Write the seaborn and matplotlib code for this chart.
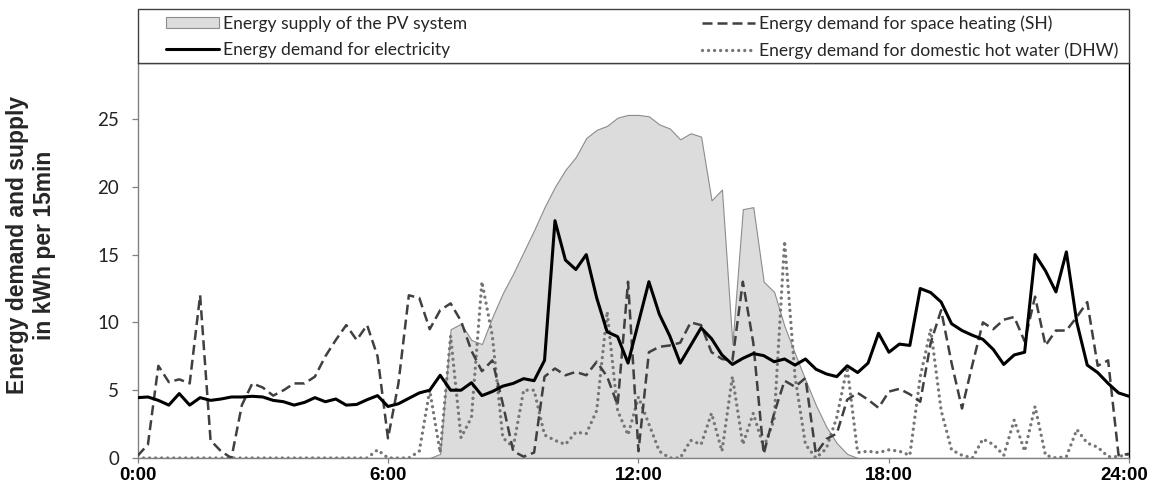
import matplotlib
matplotlib.use('Agg')
import matplotlib.pyplot as plt
import matplotlib.transforms as mtransforms
from matplotlib.patches import Patch, Rectangle
from matplotlib.lines import Line2D
import seaborn as sns
import pandas as pd
import numpy as np

sns.set_theme(style='white')
plt.rcParams['font.family'] = ['Lato', 'DejaVu Sans']

# quarter-hour slots of one day (hours)
slots = np.arange(96) / 4

pv_supply = [
    0, 0, 0, 0, 0, 0, 0, 0,
    0, 0, 0, 0, 0, 0, 0, 0,
    0, 0, 0, 0, 0, 0, 0, 0,
    0, 0, 0, 0, 0, 0.3, 9.5, 9.9,
    8.7, 8.4, 10.4, 12.15, 13.6, 15.2, 16.8, 18.5,
    20.0, 21.25, 22.2, 23.6, 24.2, 24.5, 25.1, 25.3,
    25.3, 25.2, 24.6, 24.3, 23.5, 23.95, 23.7, 19.0,
    19.8, 8.4, 18.35, 18.5, 13.0, 12.25, 9.7, 7.7,
    5.75, 3.9, 2.3, 1.1, 0.3, 0, 0, 0,
    0, 0, 0, 0, 0, 0, 0, 0,
    0, 0, 0, 0, 0, 0, 0, 0,
    0, 0, 0, 0, 0, 0, 0, 0,
]
elec_demand = [
    4.45, 4.5, 4.25, 3.9, 4.75, 3.9, 4.45, 4.25,
    4.35, 4.5, 4.5, 4.55, 4.5, 4.25, 4.15, 3.9,
    4.1, 4.45, 4.15, 4.35, 3.9, 3.95, 4.3, 4.6,
    3.8, 4.0, 4.4, 4.8, 5.0, 6.1, 5.0, 5.0,
    5.55, 4.6, 4.9, 5.3, 5.5, 5.85, 5.7, 7.2,
    17.5, 14.6, 13.9, 15.0, 11.8, 9.3, 8.95, 7.0,
    10.0, 13.0, 10.6, 9.0, 7.0, 8.3, 9.6, 8.8,
    7.6, 6.9, 7.35, 7.7, 7.55, 7.1, 7.3, 6.85,
    7.3, 6.55, 6.2, 6.0, 6.8, 6.3, 7.0, 9.2,
    7.8, 8.4, 8.3, 12.5, 12.2, 11.5, 9.9, 9.4,
    9.05, 8.75, 8.0, 6.9, 7.6, 7.8, 15.0, 13.8,
    12.25, 15.2, 10.0, 6.85, 6.3, 5.5, 4.8, 4.55,
]
sh_demand = [
    0.15, 1.0, 6.8, 5.6, 5.8, 5.5, 12.0, 1.3,
    0.5, 0.0, 3.9, 5.5, 5.2, 4.6, 5.0, 5.5,
    5.5, 6.0, 7.5, 8.7, 9.8, 8.7, 9.8, 7.5,
    1.45, 5.5, 12.0, 11.8, 9.5, 10.9, 11.4, 10.1,
    7.9, 6.4, 7.2, 4.0, 0.5, 0.1, 0.4, 6.0,
    6.6, 6.1, 6.35, 6.1, 7.1, 6.0, 3.9, 13.0,
    0.5, 7.8, 8.2, 8.3, 8.5, 10.0, 9.8, 7.8,
    7.3, 7.2, 13.0, 8.5, 0.3, 3.3, 5.7, 5.25,
    5.9, 0.3, 1.4, 1.8, 4.3, 4.8, 4.3, 3.7,
    4.9, 5.1, 4.7, 4.15, 8.5, 10.9, 7.0, 3.65,
    6.9, 10.0, 9.5, 10.2, 10.4, 8.6, 11.9, 8.3,
    9.4, 9.4, 10.4, 11.5, 6.8, 7.2, 0.2, 0.3,
]
dhw_demand = [
    0, 0, 0, 0, 0, 0, 0, 0,
    0, 0, 0, 0, 0, 0, 0, 0,
    0, 0, 0, 0, 0, 0, 0, 0.6,
    0, 0, 0, 0.5, 5.0, 0.4, 9.0, 1.5,
    3.0, 13.0, 9.0, 1.5, 0.8, 5.0, 5.0, 1.7,
    1.3, 1.0, 1.9, 1.8, 3.5, 10.8, 3.5, 1.7,
    4.5, 2.5, 0.5, 0.0, 0.0, 1.3, 1.0, 3.3,
    0.5, 6.0, 1.0, 3.3, 0.8, 2.8, 16.0, 6.0,
    1.0, 0.0, 0.7, 3.0, 6.7, 0.4, 0.5, 0.4,
    0.6, 0.5, 0.2, 6.0, 9.5, 3.5, 0.6, 0.2,
    0.0, 1.4, 1.0, 0.2, 2.8, 0.5, 3.8, 0.2,
    0.0, 0.1, 2.1, 1.1, 0.8, 0.1, 0.1, 0.3,
]

series_labels = [
    'Energy supply of the PV system',
    'Energy demand for electricity',
    'Energy demand for space heating (SH)',
    'Energy demand for domestic hot water (DHW)',
]
tick_hours = [0, 6, 12, 18, 23.75]
tick_labels = ['0:00', '6:00', '12:00', '18:00', '24:00']
y_ticks = [0, 5, 10, 15, 20, 25]

df = pd.DataFrame({'hour': slots, 'pv': pv_supply, 'elec': elec_demand,
                   'sh': sh_demand, 'dhw': dhw_demand})

W, H = 1158, 491
fig = plt.figure(figsize=(W / 100, H / 100), dpi=100)
ax = fig.add_axes([137.5 / W, 33 / H, (1129 - 137.5) / W, (458 - 63) / H])

pv_fill, pv_edge = '#dcdcdc', '#8c8c8c'
sh_color, dhw_color = '#404040', '#767676'
sh_style = (0, (4, 2))
dhw_style = (0, (0.01, 1.8))

ax.fill_between(df['hour'], df['pv'], color=pv_fill, edgecolor=pv_edge, linewidth=0.8, zorder=1)
sns.lineplot(data=df, x='hour', y='dhw', ax=ax, color=dhw_color, linewidth=2.4,
             linestyle=dhw_style, dash_capstyle='round', zorder=2)
sns.lineplot(data=df, x='hour', y='sh', ax=ax, color=sh_color, linewidth=1.8,
             linestyle=sh_style, zorder=3)
sns.lineplot(data=df, x='hour', y='elec', ax=ax, color='black', linewidth=2.2, zorder=4)

ax.set_xlim(0, 23.75)
ax.set_ylim(0, (458 - 63) / 13.56)
ax.set_xlabel('')
ax.set_ylabel('')
ax.set_yticks(y_ticks)
ax.set_xticks(tick_hours)
ax.set_xticklabels(tick_labels, family=['Liberation Sans', 'DejaVu Sans'],
                   fontweight='bold', fontsize=13.5)
ax.tick_params(axis='y', left=True, length=4.3, width=0.9, color='#808080',
               pad=9, labelsize=13.5, labelcolor='#222222')
ax.tick_params(axis='x', bottom=True, length=3.5, width=0.9, color='#808080',
               pad=3, labelcolor='black')
# last label sits a little inside the right border
lbl = ax.get_xticklabels()[-1]
lbl.set_transform(lbl.get_transform() + mtransforms.ScaledTranslation(-5 / 100, 0, fig.dpi_scale_trans))
ax.grid(False)

for side, col in [('left', '#808080'), ('bottom', '#808080'), ('top', '#404040'), ('right', 'black')]:
    ax.spines[side].set_visible(True)
    ax.spines[side].set_color(col)
    ax.spines[side].set_linewidth(1.0)

# legend strip above the plot
fig.patches.append(Rectangle((137.5 / W, 1 - 63 / H), (1129 - 137.5) / W, 54 / H,
                             transform=fig.transFigure, facecolor='white',
                             edgecolor='#404040', linewidth=1.0))
pv_handle = Patch(facecolor=pv_fill, edgecolor=pv_edge, linewidth=0.8)
elec_handle = Line2D([], [], color='black', linewidth=2.2)
sh_handle = Line2D([], [], color=sh_color, linewidth=1.8, linestyle=sh_style)
dhw_handle = Line2D([], [], color=dhw_color, linewidth=2.4, linestyle=dhw_style,
                    dash_capstyle='round')
leg_kw = dict(loc='center left', frameon=False, fontsize=12.6, handlelength=3.0,
              handleheight=0.58, handletextpad=0.25, labelspacing=0.6,
              borderpad=0, borderaxespad=0)
fig.legend([pv_handle, elec_handle], series_labels[:2],
           bbox_to_anchor=(166 / W, 1 - 37 / H), **leg_kw)
fig.legend([sh_handle, dhw_handle], series_labels[2:],
           bbox_to_anchor=(702 / W, 1 - 37 / H), **leg_kw)

fig.text(31 / W, 1 - 245 / H, 'Energy demand and supply\nin kWh per 15min',
         rotation=90, ha='center', va='center', multialignment='center',
         family=['Liberation Sans', 'DejaVu Sans'], fontweight='bold', fontsize=16.5)

fig.savefig('out.png', dpi=100)
plt.close(fig)
